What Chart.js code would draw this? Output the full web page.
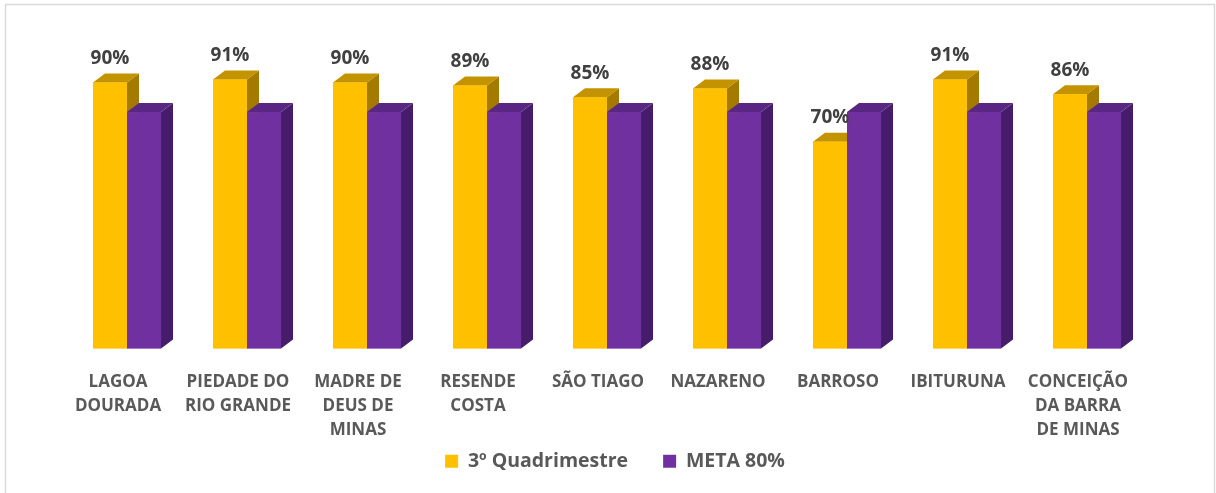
<!DOCTYPE html>
<html>
<head>
<meta charset="utf-8">
<script src="https://cdn.jsdelivr.net/npm/chart.js@4/dist/chart.umd.min.js"></script>
<style>
    html, body { margin: 0; padding: 0; background: #fff; }
    #wrap { position: relative; width: 1216px; height: 493px; }
</style>
</head>
<body>
<div id="wrap"><canvas id="myChart" width="1216" height="493"></canvas></div>
<script>
"use strict";

const categories = [
    ["LAGOA", "DOURADA"],
    ["PIEDADE DO", "RIO GRANDE"],
    ["MADRE DE", "DEUS DE", "MINAS"],
    ["RESENDE", "COSTA"],
    ["SÃO TIAGO"],
    ["NAZARENO"],
    ["BARROSO"],
    ["IBITURUNA"],
    ["CONCEIÇÃO", "DA BARRA", "DE MINAS"]
];
const quadrimestre = [90, 91, 90, 89, 85, 88, 70, 91, 86];
const meta = [80, 80, 80, 80, 80, 80, 80, 80, 80];

const fontFamily = "'Open Sans', 'DejaVu Sans', sans-serif";
const depthX = 12;
const depthY = 9;

// front, top, side colours per dataset
const faceColors = [
    { front: '#FFC000', top: '#C39300', side: '#A47B00' },
    { front: '#7030A0', top: '#5A2683', side: '#461D6B' }
];

// draws the Excel-like 3D boxes on top of the flat bars
const bars3d = {
    id: 'bars3d',
    afterDatasetsDraw(chart) {
        const ctx = chart.ctx;
        const n = chart.data.labels.length;
        for (let i = 0; i < n; i++) {
            for (let d = 0; d < chart.data.datasets.length; d++) {
                const bar = chart.getDatasetMeta(d).data[i];
                const c = faceColors[d];
                const left = bar.x - bar.width / 2;
                const right = bar.x + bar.width / 2;
                const top = bar.y;
                const bottom = bar.base;
                ctx.save();
                // side
                ctx.fillStyle = c.side;
                ctx.beginPath();
                ctx.moveTo(right, top);
                ctx.lineTo(right + depthX, top - depthY);
                ctx.lineTo(right + depthX, bottom - depthY);
                ctx.lineTo(right, bottom);
                ctx.closePath();
                ctx.fill();
                // top
                ctx.fillStyle = c.top;
                ctx.beginPath();
                ctx.moveTo(left, top);
                ctx.lineTo(left + depthX, top - depthY);
                ctx.lineTo(right + depthX, top - depthY);
                ctx.lineTo(right, top);
                ctx.closePath();
                ctx.fill();
                // front
                ctx.fillStyle = c.front;
                ctx.fillRect(left, top, right - left, bottom - top);
                ctx.restore();
            }
        }
        // value labels for the first series
        const meta0 = chart.getDatasetMeta(0);
        ctx.save();
        ctx.fillStyle = '#404040';
        ctx.font = "bold 19px " + fontFamily;
        ctx.textAlign = 'center';
        ctx.textBaseline = 'middle';
        meta0.data.forEach((bar, i) => {
            ctx.fillText(quadrimestre[i] + '%', bar.x, bar.y - 24);
        });
        ctx.restore();
    }
};

const frame = {
    id: 'frame',
    beforeDraw(chart) {
        const ctx = chart.ctx;
        ctx.save();
        ctx.strokeStyle = '#D9D9D9';
        ctx.lineWidth = 1.5;
        ctx.strokeRect(5.5, 4.5, 1209, 520);
        ctx.restore();
    },
    afterLayout(chart) {
        // let the 3-line labels run past the axis box (the legend sits below)
        const x = chart.scales.x;
        x.bottom = chart.height;
        x.height = x.bottom - x.top;
        // legend sits a bit right of the plot centre
        chart.legend.left += 8;
        chart.legend.right += 8;
    }
};

function CreateChart() {
    const ctx = document.getElementById('myChart').getContext('2d');
    const myChart = new Chart(ctx, {
        type: 'bar',
        data: {
            labels: categories,
            datasets: [{
                label: '3º Quadrimestre',
                data: quadrimestre,
                backgroundColor: faceColors[0].front,
                borderWidth: 0
            }, {
                label: 'META 80%',
                data: meta,
                backgroundColor: faceColors[1].front,
                borderWidth: 0
            }]
        },
        options: {
            responsive: false,
            animation: false,
            layout: {
                padding: { left: 67, right: 69, top: 53, bottom: 12 }
            },
            datasets: {
                bar: {
                    barPercentage: 1,
                    categoryPercentage: 0.567
                }
            },
            scales: {
                x: {
                    grid: { display: false, drawTicks: false },
                    border: { display: false },
                    ticks: {
                        color: '#595959',
                        font: { family: fontFamily, size: 17, weight: 'bold', lineHeight: 1.41 },
                        padding: 22,
                        labelOffset: -9,
                        maxRotation: 0,
                        autoSkip: false
                    },
                    afterFit(scale) {
                        scale.height = 68;
                    }
                },
                y: {
                    display: false,
                    min: 0,
                    max: 100
                }
            },
            plugins: {
                legend: {
                    position: 'bottom',
                    labels: {
                        color: '#595959',
                        font: { family: fontFamily, size: 19.5, weight: 'bold' },
                        boxWidth: 13,
                        boxHeight: 13,
                        padding: 35
                    }
                },
                tooltip: { enabled: false }
            }
        },
        plugins: [frame, bars3d]
    });
}

window.addEventListener('load', () => {
    CreateChart();
});
</script>
</body>
</html>
